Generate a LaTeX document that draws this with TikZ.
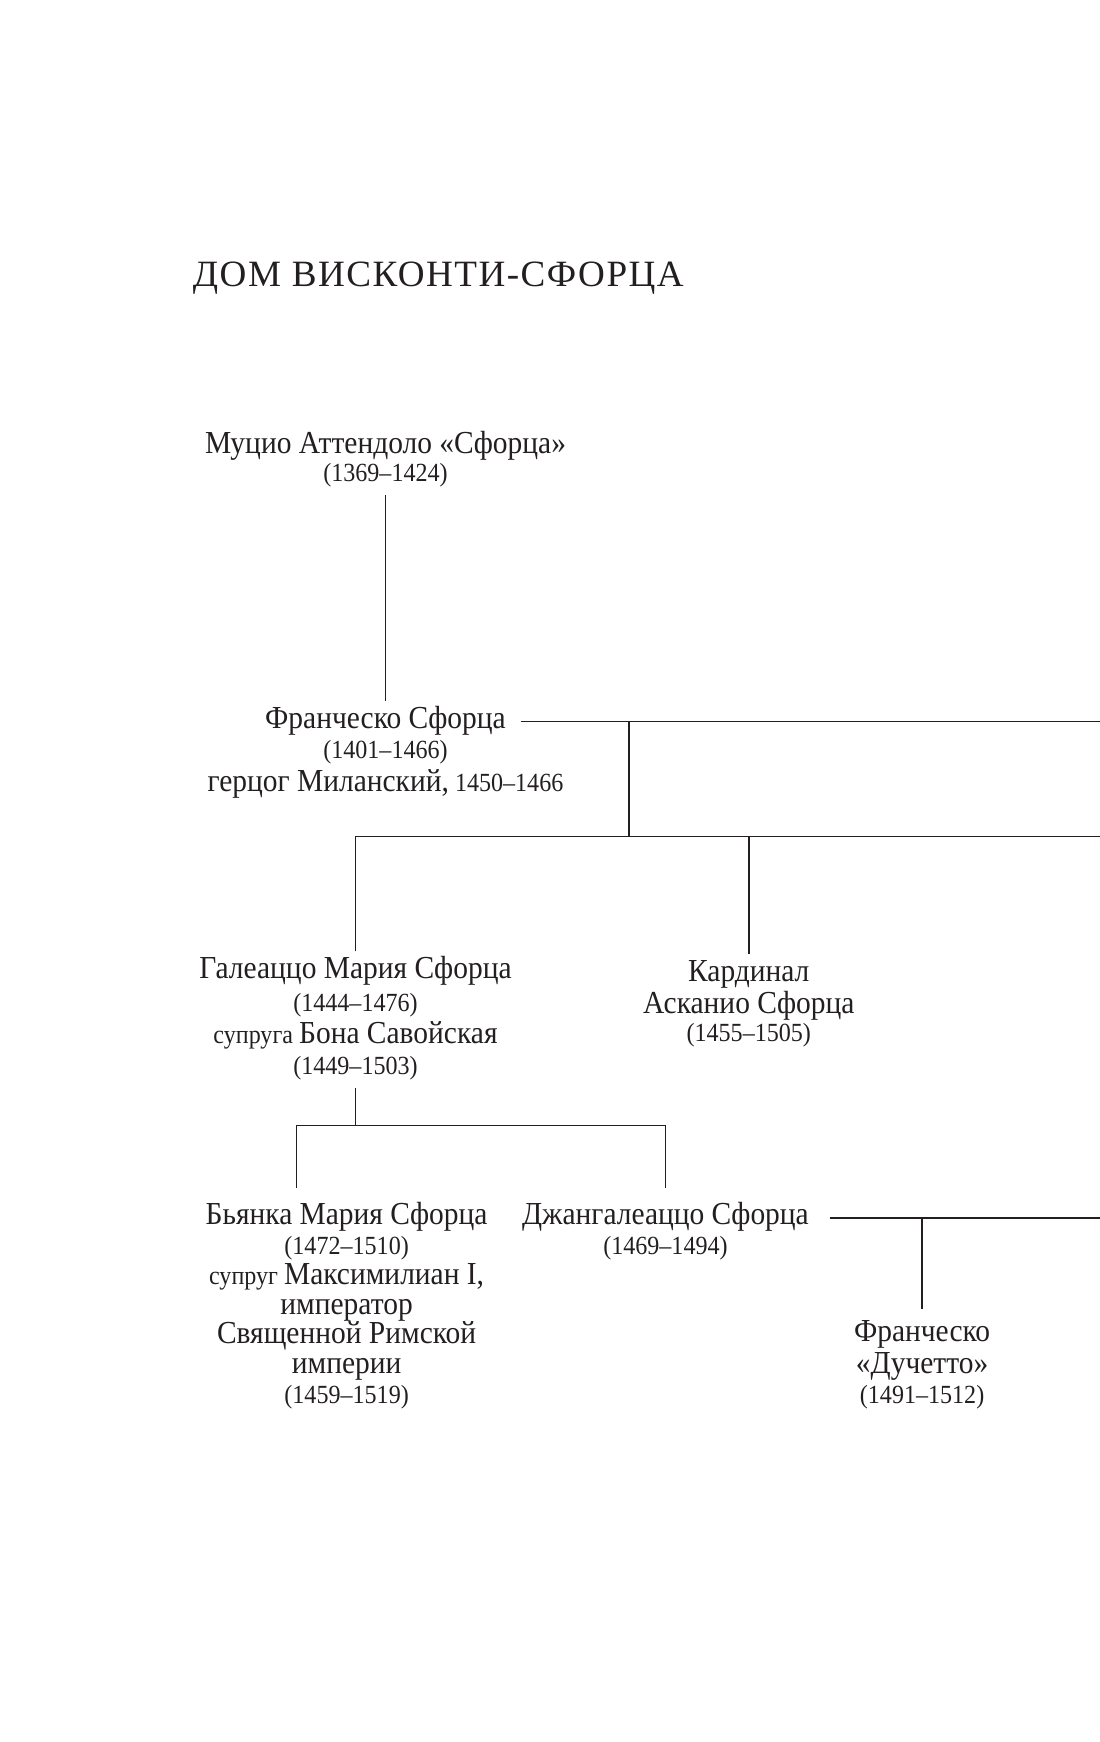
\documentclass[tikz,border=0pt]{standalone}
\usepackage{fontspec}
\setmainfont{Liberation Serif}[FakeStretch=0.92]
\newfontfamily\titlefamily{Liberation Serif}[LetterSpace=4]
\usetikzlibrary{positioning}

\definecolor{ink}{HTML}{231F20}
\newcommand{\namefont}{\fontsize{8.2}{8.1}\selectfont}
\newcommand{\datefont}{\fontsize{6.7}{8.1}\selectfont}
\newcommand{\titlefont}{\titlefamily\fontsize{9.5}{12}\selectfont}

\tikzset{
  person/.style={font=\namefont, text=ink, anchor=base, inner xsep=3.8pt, inner ysep=1.4pt, outer sep=0pt, text height=5.5pt, text depth=2.1pt},
  detail/.style={font=\datefont, text=ink, anchor=base, align=center, inner sep=2pt, outer sep=0pt},
  kin/.style={draw=ink, line width=0.4pt}
}

\begin{document}
\begin{tikzpicture}[x=0.01cm, y=-0.01cm]
\useasboundingbox (0,0) rectangle (990,1568);

\node[anchor=base west, font=\titlefont, text=ink, inner sep=0pt] (title) at (173,258) {ДОМ ВИСКОНТИ-СФОРЦА};

% Muzio and Francesco
\node[person] (muzio) at (347,408) {Муцио Аттендоло «Сфорца»};
\node[detail] (muzio-d) at (347,433.5) {(1369–1424)};

\node[person] (fs) at (347,655.5) {Франческо Сфорца};
\node[detail] (fs-d) at (347,712.5) {(1401–1466)\\[0.4pt] {\namefont герцог Миланский,} 1450–1466};

% children of Francesco
\node[person] (gm) at (320,880.5) {Галеаццо Мария Сфорца};
\node[detail] (gm-d) at (320,967.5) {(1444–1476)\\ супруга {\namefont Бона Савойская}\\ (1449–1503)};

\node[person] (asc) at (674,883) {Кардинал};
\node[detail] (asc-d) at (674,937.5) {{\namefont Асканио Сфорца}\\[-0.85pt] (1455–1505)};

% children of Galeazzo
\node[person] (bianca) at (312,1102.5) {Бьянка Мария Сфорца};
\node[detail] (bianca-d) at (312,1263) {(1472–1510)\\[-0.5pt] супруг {\namefont Максимилиан I,}\\[-0.5pt] {\namefont император}\\[-0.5pt] {\namefont Священной Римской}\\[-0.5pt] {\namefont империи}\\[-0.5pt] (1459–1519)};

\node[person] (gian) at (599,1102.5) {Джангалеаццо Сфорца};
\node[detail] (gian-d) at (599,1129.5) {(1469–1494)};

\node[person] (duc) at (830,1207.5) {Франческо};
\node[detail] (duc-d) at (830,1263) {{\namefont «Дучетто»}\\[-0.5pt] (1491–1512)};

% lines
\coordinate (rim) at (990,0);
\coordinate (fbus) at (566,753);
\coordinate (gbus) at (320,1013);

\draw[kin] (muzio-d.south) -- (fs.north);
\draw[kin] (fs.east) -- (fs.east -| rim);
\draw[kin] (fs.east -| fbus) -- (fbus);
\draw[kin] (gm.north) |- (fbus -| rim);
\draw[kin] (asc.north) -- (asc.north |- fbus);
\draw[kin] (gm-d.south) -- (gbus);
\draw[kin, shorten <=2.5pt, shorten >=2.5pt] ([xshift=-0.45cm]bianca.north) |- (gbus) -| (gian.north);
\draw[kin, shorten <=1.6pt] (gian.east) -- (gian.east -| rim);
\draw[kin, shorten <=1.5pt] (duc.north) -- (duc.north |- gian.east);
\end{tikzpicture}
\end{document}
